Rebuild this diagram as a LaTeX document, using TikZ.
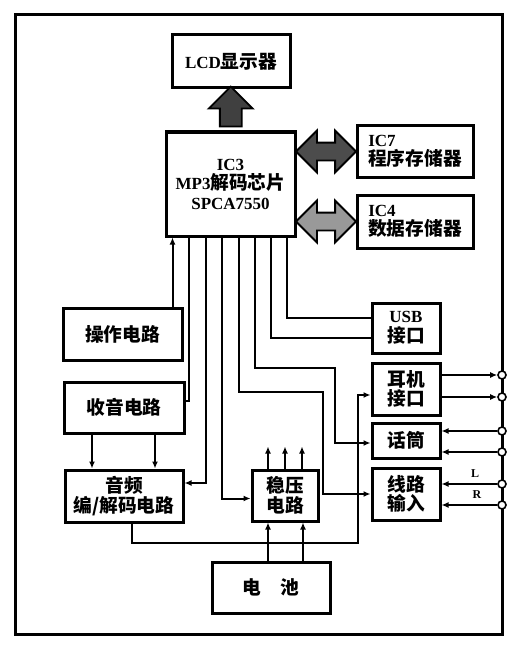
\documentclass[tikz,border=0pt]{standalone}
\usepackage{fontspec}
\setmainfont{Liberation Serif}
\newfontfamily\cjk{Noto Sans CJK SC}[Scale=1.1]
\usetikzlibrary{shapes.arrows,arrows.meta,calc}
\newcommand{\zh}[1]{{\cjk\bfseries #1}}

\tikzset{
  blocco/.style={draw,line width=3pt,inner sep=0pt,align=center,
    font=\bfseries\fontsize{17}{19.5}\selectfont},
  filo/.style={line width=2pt},
  freccia/.style={filo,-{Latex[length=7pt,width=6pt]}},
  morsetto/.style={circle,draw,fill=white,line width=1.6pt,inner sep=0pt,minimum size=8pt},
  bus/.style={double arrow,draw,line width=1.8pt,fill=black!70,inner sep=8pt,
    double arrow head extend=12pt,minimum height=60pt},
}

\begin{document}
\begin{tikzpicture}[x=1pt,y=-1pt]
  \useasboundingbox (0,0) rectangle (518,650);
  % cornice
  \draw[line width=3pt] (15,15) rectangle (502,634);

  % blocchi in alto
  \node[blocco,minimum width=118pt,minimum height=53pt] (lcd) at (231,61.5) {LCD\zh{显示器}};
  \node[blocco,minimum width=129pt,minimum height=104pt] (ic3) at (230.5,184)
    {IC3\\MP3\zh{解码芯片}\\SPCA7550};
  \node[blocco,minimum width=116pt,minimum height=51pt,align=left] (ic7) at (415,151.5)
    {IC7\\\zh{程序存储器}};
  \node[blocco,minimum width=116pt,minimum height=53pt,align=left] (ic4) at (415,221.5)
    {IC4\\\zh{数据存储器}};

  % blocchi a sinistra
  \node[blocco,minimum width=119pt,minimum height=52pt] (op) at (122.5,334) {\zh{操作电路}};
  \node[blocco,minimum width=120pt,minimum height=51pt] (sy) at (124,407.5) {\zh{收音电路}};
  \node[blocco,minimum width=118pt,minimum height=52pt] (yp) at (124,496) {\zh{音频}\\\zh{编/解码电路}};
  \node[blocco,minimum width=66pt,minimum height=51pt] (wy) at (285,495.5) {\zh{稳压}\\\zh{电路}};
  \node[blocco,minimum width=118pt,minimum height=51pt] (dc) at (271,587.5) {\zh{电\hspace{1em}池}};

  % blocchi a destra
  \node[blocco,minimum width=68pt,minimum height=50pt] (usb) at (406,328) {USB\\\zh{接口}};
  \node[blocco,minimum width=68pt,minimum height=52pt] (ej) at (406,389) {\zh{耳机}\\\zh{接口}};
  \node[blocco,minimum width=68pt,minimum height=35pt] (hd) at (406,440.5) {\zh{话筒}};
  \node[blocco,minimum width=68pt,minimum height=52pt] (xl) at (406,494) {\zh{线路}\\\zh{输入}};

  % morsetti sul bordo
  \foreach \n/\y in {1/375,2/397,3/431,4/452,5/484,6/505}
    \node[morsetto] (t\n) at (502,\y) {};
  \node[font=\bfseries\fontsize{12}{12}\selectfont] (labL) at (475,474) {L};
  \node[font=\bfseries\fontsize{12}{12}\selectfont] (labR) at (477,495) {R};

  % bus larghi
  \node[single arrow,draw,line width=1.8pt,fill=black!75,shape border rotate=90,
    inner sep=10pt,single arrow head extend=11pt,minimum height=40pt] (buslcd)
    at ($(lcd.south)!0.5!(ic3.north)+(0,2)$) {};
  \node[bus] (bus7) at ($(ic3.east |- ic7.west)!0.5!(ic7.west)$) {};
  \node[bus,fill=black!40] (bus4) at ($(ic3.east |- ic4.west)!0.5!(ic4.west)$) {};

  % piedini di IC3
  \foreach \n/\dx in {1/8,2/24,3/41,4/57,5/74,6/90,7/106,8/122}
    \coordinate (pin\n) at ($(ic3.south west)+(\dx,0)$);
  \coordinate (k5) at (323,392);
  \coordinate (k6) at (335,368);
  \coordinate (k9) at (358,543);

  % collegamenti
  \draw[freccia] (pin1 |- op.north) -- (pin1);
  \draw[filo] (pin2) |- ([yshift=7pt]sy.east);
  \draw[freccia] (pin3) |- ([yshift=13pt]yp.east);
  \draw[freccia] (pin4) |- ([yshift=-3pt]wy.west);
  \draw[freccia] (pin5) |- (k5) |- (xl.west);
  \draw[freccia] (pin6) |- (k6) |- ([yshift=-2.5pt]hd.west);
  \draw[filo] (pin7) |- ([yshift=-10pt]usb.west);
  \draw[filo] (pin8) |- ([yshift=10pt]usb.west);
  \draw[freccia] ([xshift=8pt]yp.south) |- (k9) |- ([yshift=-6pt]ej.west);

  \draw[freccia] ([xshift=-32pt]sy.south) -- ([xshift=-32pt]sy.south |- yp.north);
  \draw[freccia] ([xshift=31pt]sy.south) -- ([xshift=31pt]sy.south |- yp.north);

  \draw[freccia] ([xshift=-17pt]wy.south |- dc.north) -- ([xshift=-17pt]wy.south);
  \draw[freccia] ([xshift=18pt]wy.south |- dc.north) -- ([xshift=18pt]wy.south);
  \foreach \dx in {-17,0,17}
    \draw[freccia] ([xshift=\dx pt]wy.north) -- ++(0,-22);

  \draw[freccia] (ej.east |- t1) -- (t1);
  \draw[freccia] (ej.east |- t2) -- (t2);
  \draw[freccia] (t3) -- (hd.east |- t3);
  \draw[freccia] (t4) -- (hd.east |- t4);
  \draw[freccia] (t5) -- (xl.east |- t5);
  \draw[freccia] (t6) -- (xl.east |- t6);
\end{tikzpicture}
\end{document}
